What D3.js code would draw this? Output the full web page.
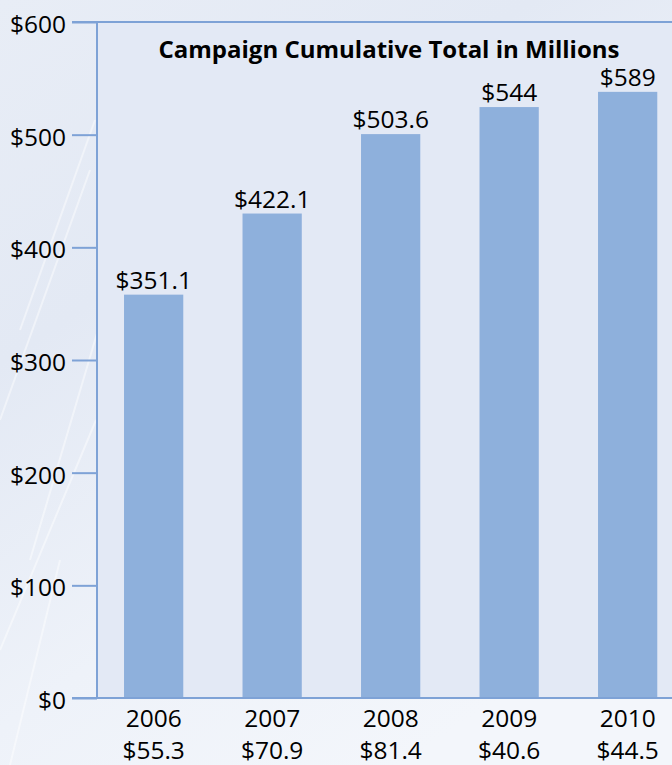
<!DOCTYPE html>
<html>
<head>
<meta charset="utf-8">
<script src="https://cdn.jsdelivr.net/npm/d3@7"></script>
<style>
  html, body { margin: 0; padding: 0; background: #eef2f9; }
  svg { display: block; }
  text { font-family: "Open Sans", "Noto Sans", sans-serif; fill: #000; }
</style>
</head>
<body>
<svg id="chart" width="672" height="765"></svg>
<script>
// ---- data ----
const years = ["2006", "2007", "2008", "2009", "2010"];
// bar heights as drawn in the picture (millions)
const barValues = [358, 430, 500.5, 524.5, 538];
// labels printed above the bars
const totalLabels = ["$351.1", "$422.1", "$503.6", "$544", "$589"];
// yearly amounts printed under the years
const yearLabels = ["$55.3", "$70.9", "$81.4", "$40.6", "$44.5"];
const yTicks = [0, 100, 200, 300, 400, 500, 600];
const title = "Campaign Cumulative Total in Millions";

const W = 672, H = 765;
const FS = 24.5;
const svg = d3.select("#chart");

// ---- background ----
const defs = svg.append("defs");
const bg = defs.append("linearGradient").attr("id", "bg")
  .attr("x1", "0").attr("y1", "0").attr("x2", "0.6").attr("y2", "1");
bg.append("stop").attr("offset", "0").attr("stop-color", "#e8edf6");
bg.append("stop").attr("offset", "0.35").attr("stop-color", "#e3e9f4");
bg.append("stop").attr("offset", "0.7").attr("stop-color", "#eef2f9");
bg.append("stop").attr("offset", "1").attr("stop-color", "#f3f6fb");
svg.append("rect").attr("width", W).attr("height", H).attr("fill", "url(#bg)");

// faint decorative streaks (texture of the original backdrop)
const streaks = [[20, 330, 95, 120], [0, 420, 90, 170], [30, 560, 98, 330],
                 [0, 650, 96, 420], [10, 765, 60, 560]];
svg.append("g").selectAll("line").data(streaks).join("line")
  .attr("x1", d => d[0]).attr("y1", d => d[1]).attr("x2", d => d[2]).attr("y2", d => d[3])
  .attr("stroke", "#ffffff").attr("stroke-opacity", 0.45).attr("stroke-width", 2);

// ---- scales ----
const y = d3.scaleLinear().domain([0, 600]).range([698, 22]);
const x = d3.scaleBand().domain(years).range([94.4, 686.9]).paddingInner(0.5).paddingOuter(0.25);

const plotLeft = 97;

// plot area
svg.append("rect")
  .attr("x", plotLeft).attr("y", y(600))
  .attr("width", W - plotLeft).attr("height", y(0) - y(600))
  .attr("fill", "#e3e9f5");

// bars
svg.append("g").selectAll("rect").data(barValues).join("rect")
  .attr("x", (d, i) => x(years[i]))
  .attr("y", d => y(d))
  .attr("width", x.bandwidth())
  .attr("height", d => y(0) - y(d))
  .attr("fill", "#8eb0dc");

// value labels
svg.append("g").selectAll("text").data(barValues).join("text")
  .attr("x", (d, i) => x(years[i]) + x.bandwidth() / 2)
  .attr("y", d => y(d) - 6)
  .attr("text-anchor", "middle")
  .attr("font-size", FS)
  .text((d, i) => totalLabels[i]);

// y axis
const yAxis = d3.axisLeft(y).tickValues(yTicks).tickFormat(d => "$" + d)
  .tickSize(25).tickPadding(6);
const ya = svg.append("g").attr("transform", `translate(${plotLeft},0)`).call(yAxis);
ya.select(".domain").remove();
ya.selectAll(".tick line").attr("stroke", "#7ea2d6").attr("stroke-width", 2);
ya.selectAll(".tick text").attr("font-size", FS).attr("fill", "#000")
  .attr("font-family", "'Open Sans', sans-serif").attr("dy", "0.43em");

// frame lines: left and top of plot, bottom baseline
svg.append("line").attr("x1", plotLeft).attr("x2", plotLeft)
  .attr("y1", y(600)).attr("y2", y(0))
  .attr("stroke", "#7ea2d6").attr("stroke-width", 2);
svg.append("line").attr("x1", plotLeft - 25).attr("x2", W)
  .attr("y1", y(600)).attr("y2", y(600))
  .attr("stroke", "#7ea2d6").attr("stroke-width", 2);
svg.append("line").attr("x1", plotLeft - 25).attr("x2", W)
  .attr("y1", y(0)).attr("y2", y(0))
  .attr("stroke", "#7ea2d6").attr("stroke-width", 2);

// x axis labels
const xAxis = d3.axisBottom(x).tickSize(0).tickPadding(0);
const xa = svg.append("g").attr("transform", `translate(0,${y(0)})`).call(xAxis);
xa.select(".domain").remove();
xa.selectAll(".tick text").attr("font-size", FS).attr("fill", "#000")
  .attr("font-family", "'Open Sans', sans-serif")
  .attr("dy", null).attr("y", 29);

svg.append("g").selectAll("text").data(yearLabels).join("text")
  .attr("x", (d, i) => x(years[i]) + x.bandwidth() / 2)
  .attr("y", 759)
  .attr("text-anchor", "middle")
  .attr("font-size", FS)
  .text(d => d);

// title
svg.append("text")
  .attr("x", 389).attr("y", 58)
  .attr("text-anchor", "middle")
  .attr("font-size", 24).attr("font-weight", "bold")
  .text(title);
</script>
</body>
</html>
